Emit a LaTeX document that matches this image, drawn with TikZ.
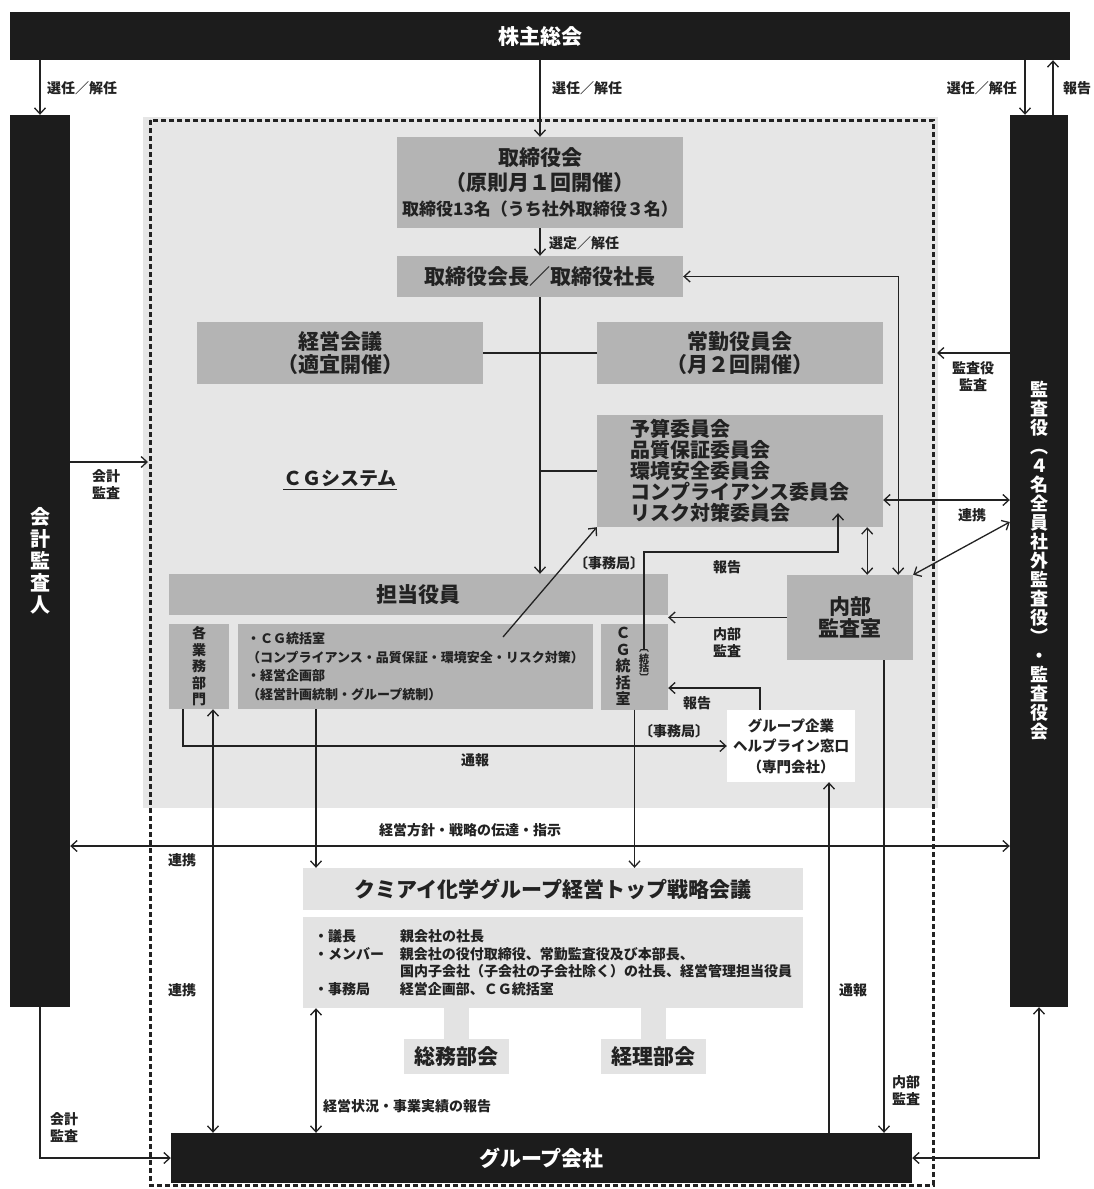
\documentclass[tikz,border=0pt]{standalone}
\usepackage{fontspec}
\setmainfont{Noto Sans CJK JP}
\usetikzlibrary{arrows.meta,calc}
\definecolor{blk}{HTML}{1C1C1C}
\definecolor{midg}{HTML}{B4B4B4}
\definecolor{bgl}{HTML}{E6E6E6}
\definecolor{lbox}{HTML}{E3E3E3}
\definecolor{ink}{HTML}{222222}
\newcommand{\myfs}[2]{\fontsize{#1}{#2}\selectfont}
\begin{document}
\begin{tikzpicture}[x=1pt,y=-1pt,
  blackbox/.style={fill=blk, text=white, inner sep=0pt, font=\bfseries\myfs{21}{24}},
  graybox/.style={fill=midg, text=ink, inner sep=0pt, font=\bfseries\myfs{21}{24}},
  lightbox/.style={fill=lbox, text=ink, inner sep=0pt, font=\bfseries\myfs{21}{24}},
  lbl/.style={text=ink, inner sep=0pt, align=center, font=\bfseries\myfs{14}{17}},
  ln/.style={draw=ink, line width=1.3pt},
  arr/.style={ln, -{Straight Barb[length=6pt,width=11pt]}},
  darr/.style={ln, {Straight Barb[length=6pt,width=11pt]}-{Straight Barb[length=6pt,width=11pt]}}
]
\useasboundingbox (0,0) rectangle (1093,1189);
\fill[white] (0,0) rectangle (1093,1189);
\fill[bgl] (143,117) rectangle (938,808);
\draw[ink, line width=3pt, dash pattern=on 5pt off 3pt] (150,120) rectangle (933,1185);

% boxes
\node[blackbox, minimum width=1060pt, minimum height=48pt] (agm) at (540,36) {株主総会};
\node[blackbox, minimum width=60pt, minimum height=892pt, align=center, font=\bfseries\myfs{20}{22}] (auditor) at (40,561) {会\\計\\監\\査\\人};
\node[blackbox, minimum width=58pt, minimum height=892pt, align=center, font=\bfseries\myfs{18}{19}] (kansa) at (1039,561) {監\\査\\役\\︵\\４\\名\\全\\員\\社\\外\\監\\査\\役\\︶\\・\\監\\査\\役\\会};
\node[graybox, minimum width=286pt, minimum height=91pt, align=center, font=\bfseries\myfs{21}{25}] (board) at (540,182.5) {取締役会\\（原則月１回開催）\\{\myfs{17}{21}取締役13名（うち社外取締役３名）}};
\node[graybox, minimum width=286pt, minimum height=41pt] (pres) at (540,276.5) {取締役会長／取締役社長};
\node[graybox, minimum width=286pt, minimum height=62pt, align=center, font=\bfseries\myfs{21}{23}] (keiei) at (340,353) {経営会議\\（適宜開催）};
\node[graybox, minimum width=286pt, minimum height=62pt, align=center, font=\bfseries\myfs{21}{23}] (jokin) at (740,353) {常勤役員会\\（月２回開催）};
\node[graybox, minimum width=286pt, minimum height=112pt, align=left, font=\bfseries\myfs{20}{21}] (iinkai) at (740,471) {予算委員会\\品質保証委員会\\環境安全委員会\\コンプライアンス委員会\\リスク対策委員会};
\node[graybox, minimum width=499pt, minimum height=41pt] (tanto) at (418.5,594.5) {担当役員};
\node[graybox, minimum width=60pt, minimum height=85pt, align=center, font=\bfseries\myfs{14}{16.5}] (gyomu) at (199,666.5) {各\\業\\務\\部\\門};
\node[graybox, minimum width=355pt, minimum height=85pt, align=left, font=\bfseries\myfs{13}{18.5}] (cglist) at (415.5,666.5) {・ＣＧ統括室\\（コンプライアンス・品質保証・環境安全・リスク対策）\\・経営企画部\\（経営計画統制・グループ統制）};
\node[graybox, minimum width=67pt, minimum height=86pt] (cgv) at (634.5,666.5) {};
\node[lbl, font=\bfseries\myfs{15}{16.5}] (cgvtext) at (623,666.5) {Ｃ\\Ｇ\\統\\括\\室};
\node[lbl, font=\bfseries\myfs{10}{10}] (cgvsub) at (644,666) {︹\\統\\括\\︺};
\node[graybox, minimum width=126pt, minimum height=85pt, align=center, font=\bfseries\myfs{21}{22}] (naibu) at (850,617.5) {内部\\監査室};
\node[fill=white, text=ink, inner sep=0pt, minimum width=128pt, minimum height=72pt, align=center, font=\bfseries\myfs{14.5}{20.5}] (help) at (791,746) {グループ企業\\ヘルプライン窓口\\（専門会社）};
\node[lightbox, minimum width=500pt, minimum height=42pt] (senryaku) at (553,889) {クミアイ化学グループ経営トップ戦略会議};
\node[lightbox, minimum width=500pt, minimum height=91pt, align=left, font=\bfseries\myfs{14}{17.5}] (members) at (553,962.5) {\makebox[86pt][l]{・議長}親会社の社長\\\makebox[86pt][l]{・メンバー}親会社の役付取締役、常勤監査役及び本部長、\\\makebox[86pt][l]{}国内子会社（子会社の子会社除く）の社長、経営管理担当役員\\\makebox[86pt][l]{・事務局}経営企画部、ＣＧ統括室};
\node[lightbox, minimum width=105pt, minimum height=35pt] (somu) at (456.5,1056.5) {総務部会};
\node[lightbox, minimum width=105pt, minimum height=35pt] (keiri) at (653.5,1056.5) {経理部会};
\node[blackbox, minimum width=741pt, minimum height=50pt] (group) at (541.5,1158) {グループ会社};

\draw[lbox, line width=25pt] (members.south -| somu.north) -- (somu.north);
\draw[lbox, line width=25pt] (members.south -| keiri.north) -- (keiri.north);

% helper coordinates
\coordinate (frameL) at (148,462);
\coordinate (frameR) at (937,353);
\coordinate (y500) at (0,500);
\coordinate (y522) at (0,522);
\coordinate (y846) at (0,846);
\coordinate (y688) at (0,688);
\coordinate (y552) at (0,552);
\coordinate (x316) at (316,0);
\coordinate (x829) at (829,0);
\coordinate (x884) at (884,0);
\coordinate (diagS) at (503,637);

% connectors
\draw[arr] (auditor.north |- agm.south) -- (auditor.north);
\draw[arr] (agm.south -| board.north) -- (board.north);
\draw[arr] ([xshift=-14pt]kansa.north |- agm.south) -- ([xshift=-14pt]kansa.north);
\draw[arr] ([xshift=14pt]kansa.north) -- ([xshift=14pt]kansa.north |- agm.south);
\draw[arr] (board.south) -- (pres.north);
\draw[arr] (pres.south) -- (pres.south |- tanto.north);
\draw[ln] (keiei.east) -- (jokin.west);
\draw[ln] (pres.south |- iinkai.west) -- (iinkai.west);
\draw[darr] (pres.east) -| ([xshift=-15pt]naibu.north east);
\draw[darr] ([xshift=-46pt]naibu.north east |- iinkai.south) -- ([xshift=-46pt]naibu.north east);
\draw[darr] (iinkai.east |- y500) -- (kansa.west |- y500);
\draw[darr] (kansa.west |- y522) -- (naibu.north east);
\draw[arr] (kansa.west |- frameR) -- (frameR);
\draw[arr] (auditor.east |- frameL) -- (frameL);
\draw[arr] (diagS) -- (iinkai.south west);
\draw[arr] (cgvsub.north) -- (cgvsub.north |- y552) -| ([xshift=98pt,yshift=14pt]iinkai.south);
\draw[arr] (naibu.west) -- (naibu.west -| cgv.east);
\draw[arr] ([xshift=-31pt]help.north) |- (cgv.east |- y688);
\draw[arr] ([xshift=-16pt]gyomu.south) |- (help.west);
\draw[darr] ([xshift=14pt]gyomu.south) -- ([xshift=14pt]gyomu.south |- group.north);
\draw[arr] (cglist.south -| x316) -- (senryaku.north -| x316);
\draw[arr] (cgv.south) -- (cgv.south |- senryaku.north);
\draw[darr] (auditor.east |- y846) -- (kansa.west |- y846);
\draw[darr] (members.south -| x316) -- (group.north -| x316);
\draw[arr] (group.north -| x829) -- (help.south -| x829);
\draw[arr] (naibu.south -| x884) -- (group.north -| x884);
\draw[arr] (auditor.south) |- (group.west);
\draw[darr] (kansa.south) |- (group.east);

% labels
\node[lbl, anchor=west] (l1) at (47,88) {選任／解任};
\node[lbl, anchor=west] (l2) at (552,88) {選任／解任};
\node[lbl, anchor=east] (l3) at (1017,88) {選任／解任};
\node[lbl, anchor=west] (l4) at (1063,88) {報告};
\node[lbl, anchor=west] (l5) at (549,243) {選定／解任};
\node[lbl] (l6) at (973,377) {監査役\\監査};
\node[lbl] (l7) at (972,515) {連携};
\node[lbl] (l8) at (106,485) {会計\\監査};
\node[lbl, font=\bfseries\myfs{19}{22}] (cgsys) at (340,480) {\underline{ＣＧシステム}};
\node[lbl] (l9) at (609,563) {〔事務局〕};
\node[lbl] (l10) at (727,567) {報告};
\node[lbl] (l11) at (727,643) {内部\\監査};
\node[lbl] (l12) at (697,703) {報告};
\node[lbl] (l13) at (674,731) {〔事務局〕};
\node[lbl] (l14) at (475,760) {通報};
\node[lbl] (l15) at (470,830) {経営方針・戦略の伝達・指示};
\node[lbl] (l16) at (182,860) {連携};
\node[lbl] (l17) at (182,990) {連携};
\node[lbl] (l18) at (853,990) {通報};
\node[lbl, anchor=west] (l19) at (323,1106) {経営状況・事業実績の報告};
\node[lbl] (l20) at (906,1091) {内部\\監査};
\node[lbl] (l21) at (64,1128) {会計\\監査};
\end{tikzpicture}
\end{document}
